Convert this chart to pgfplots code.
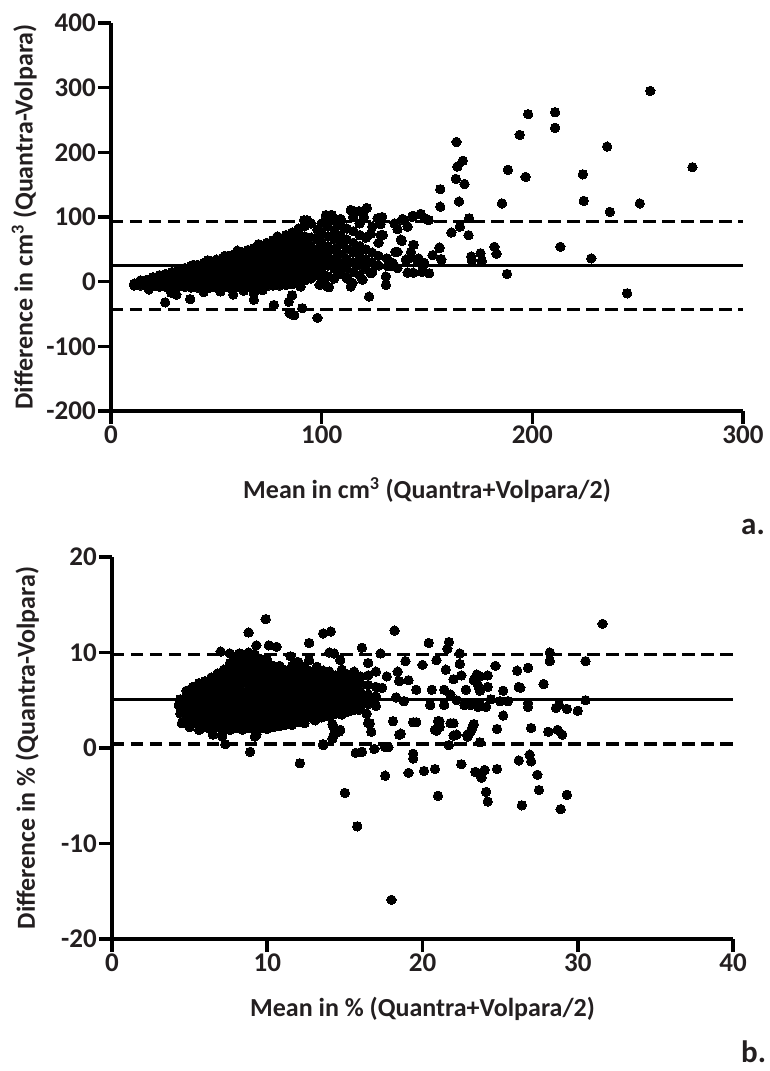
\documentclass[border=0pt]{standalone}
\usepackage{fontspec}
\setmainfont{Carlito}
\usepackage{pgfplots}
\pgfplotsset{compat=1.18}
\definecolor{txt}{HTML}{231F20}
\newcommand{\lblfont}{\fontsize{26}{30}\selectfont\bfseries}

\pgfplotsset{
  ba/.style={
    scale only axis,
    axis lines=left,
    axis line style={-, line width=3.6pt, black},
    tick style={line width=3.6pt, black},
    major tick length=13pt,
    tick align=outside,
    /pgf/number format/assume math mode=true,
    tick label style={font=\fontsize{27}{27}\selectfont\bfseries, text=txt, inner sep=2pt},
    every axis y label/.style={at={(axis description cs:-0.124,0.5)}, rotate=90, anchor=base, font=\lblfont, text=txt},
    clip=false,
  },
  dot/.style={only marks, mark=*, mark size=4.7pt, mark options={draw=black, fill=black, line width=0pt}},
  mean/.style={black, line width=3.2pt, no marks},
  loa/.style={black, line width=3.2pt, no marks, dash pattern=on 12.5pt off 6.5pt},
}

\begin{document}
\begin{tikzpicture}
\useasboundingbox (-112pt,-132pt) rectangle (658pt,939pt);

% ---- a. volume ----
\begin{axis}[ba,
  at={(-1pt,528pt)}, anchor=south west,
  width=632pt, height=388pt,
  xmin=0, xmax=300, ymin=-200, ymax=400,
  xtick={0,100,200,300}, ytick={-200,-100,0,100,200,300,400},
  every axis x label/.style={at={(axis description cs:0.5,0)}, anchor=base, yshift=-88pt, font=\lblfont, text=txt},
  xlabel={Mean in cm\textsuperscript{3} (Quantra+Volpara/2)},
  ylabel={Difference in cm\textsuperscript{3} (Quantra-Volpara)},
]
\addplot[dot] coordinates {
(11,-6)(11,-3)(14,-6)(14,-2)(14,2)(17,-7)(17,-2)(17,3)
(20,-7)(20,-2)(20,3)(20,7)(23,-8)(23,-3)(23,2)(23,7)(23,10)
(26,-8)(26,-3)(26,2)(26,7)(26,12)(29,-8)(29,-2)(29,4)(29,10)(29,15)
(32,-8)(32,-2)(32,4)(32,10)(32,16)(32,18)(35,-8)(35,-2)(35,5)(35,12)(35,18)(35,21)
(38,-9)(38,-2)(38,5)(38,12)(38,18)(38,24)(41,-9)(41,-2)(41,5)(41,12)(41,19)(41,26)
(44,-9)(44,-2)(44,6)(44,14)(44,22)(44,29)(47,-9)(47,-1)(47,7)(47,15)(47,23)(47,31)
(50,-9)(50,-1)(50,7)(50,15)(50,23)(50,31)(50,34)(53,-9)(53,-1)(53,7)(53,15)(53,23)(53,31)(53,37)
(56,-9)(56,0)(56,9)(56,18)(56,27)(56,35)(56,40)(59,-9)(59,0)(59,9)(59,18)(59,27)(59,36)(59,43)
(62,-8)(62,1)(62,10)(62,19)(62,28)(62,37)(62,46)(65,-8)(65,2)(65,12)(65,22)(65,32)(65,42)(65,49)
(68,-8)(68,2)(68,12)(68,22)(68,32)(68,42)(68,52)(71,-7)(71,3)(71,13)(71,23)(71,33)(71,43)(71,53)(71,56)
(74,-7)(74,3)(74,13)(74,23)(74,33)(74,43)(74,53)(74,60)(77,-6)(77,4)(77,14)(77,24)(77,34)(77,44)(77,54)(77,64)
(80,-6)(80,4)(80,14)(80,24)(80,34)(80,44)(80,54)(80,66)(83,-5)(83,5)(83,15)(83,25)(83,35)(83,45)(83,55)(83,66)(83,72)
(86,-4)(86,6)(86,16)(86,26)(86,36)(86,46)(86,56)(86,68)(86,76)(89,-3)(89,8)(89,18)(89,28)(89,38)(89,50)(89,62)(89,74)(89,82)
(92,2)(92,12)(92,22)(92,34)(92,46)(92,58)(92,70)(92,86)(95,5)(95,15)(95,28)(95,40)(95,55)(95,68)(95,90)
(98,10)(98,22)(98,38)(98,50)(98,65)(98,80)
(100,0)(100,15)(100,30)(100,45)(100,60)(100,75)(100,90)(103,8)(103,25)(103,40)(103,55)(103,70)(103,85)
(106,5)(106,20)(106,35)(106,50)(106,65)(106,80)(106,95)(109,12)(109,28)(109,42)(109,58)(109,72)(109,88)
(112,5)(112,20)(112,35)(112,50)(112,65)(112,82)(115,15)(115,30)(115,45)(115,60)(115,78)(115,100)
(118,10)(118,25)(118,40)(118,55)(118,72)(118,90)(121,20)(121,35)(121,50)(121,68)(124,15)(124,30)(124,45)(124,85)
(127,25)(127,40)(127,60)
(25.7,-32)(37.6,-27)(28.6,-17)(31,-20)(58,-20)(67.8,-18)(67.8,-28)(77.3,-36)(84.4,-31)(86,-21)
(84.8,-49)(87,-52)(90.8,-41)(98,-56)(103.5,-8.5)(113.8,-7.5)(122.5,-23)(130.5,-5)(99,-5)(90,-7.5)
(18,-12)(44,-16)(52,-15)(63,-14)(72,-13)(33,14)(46,33)(60,48)(70,58)(79,70)(54,40)(39,26)
(113.8,111)(117.8,109)(121.4,114)(102,103)(104.8,103)(93,95)(109,97)(120,100)(126.5,98)(128,89)
(138.4,97)(143,100)(147,105)(149.6,97)(136,81)(123.3,74)(128,72)(137.6,65)(143.7,57)(136,46)
(141.6,36)(131,36)(152.7,41)(156,52)(156.7,35)(131.3,24)(145.6,31)(148,23)(151,13)(140.8,14)
(130.5,8)(114.6,-2)(119.4,3)(123.3,13)(102.7,-7.5)
(256,295)(198,259)(210.8,262)(210.8,238)(194,227)(164,216)(235.5,209)(167,187)(164.4,178)(276,177)
(188.4,173)(196.8,162)(224,166)(163.7,159)(167.8,151)(156.3,143)(165.2,124)(185.6,121)(224.4,125)
(251,121)(156.3,116)(236.8,108)(170,98)(165.6,85)(161.6,76)(169.7,72)(213.3,54)(228,36)(188,12)
(245,-18)(182,54)(183,43)(175.4,44)(176,32)(171,39)(171.3,33)(155.9,53)(156.8,34)
(143.5,102)(147,104)(138.7,95)(150.8,95)(140.8,85)(129,72)(138,63)(143.5,57)(135,46)(142.4,46)
(140,34)(146,36)(148.7,29)(133.7,29)(133,24)(136,21)(143.5,14)(147.5,15)(128.7,100)
(114,110)(104.3,103)(91.6,95)(134.6,90)
};
\addplot[mean] coordinates {(0,24.5) (300,24.5)};
\addplot[loa] coordinates {(0,92.5) (300,92.5)};
\addplot[loa] coordinates {(0,-43.5) (300,-43.5)};
\end{axis}

% ---- b. percentage ----
\begin{axis}[ba,
  at={(0pt,0pt)}, anchor=south west,
  width=621pt, height=382pt,
  xmin=0, xmax=40, ymin=-20, ymax=20,
  xtick={0,10,20,30,40}, ytick={-20,-10,0,10,20},
  every axis x label/.style={at={(axis description cs:0.5,0)}, anchor=base, yshift=-77pt, font=\lblfont, text=txt},
  xlabel={Mean in \% (Quantra+Volpara/2)},
  ylabel={Difference in \% (Quantra-Volpara)},
]
\addplot[dot] coordinates {
(4.4,3.6)(4.4,4.4)(4.4,5.1)(4.8,3.0)(4.8,3.8)(4.8,4.6)(4.8,5.4)(4.8,6.0)
(5.2,2.6)(5.2,3.4)(5.2,4.2)(5.2,5.0)(5.2,5.8)(5.2,6.4)(5.6,2.3)(5.6,3.1)(5.6,3.9)(5.6,4.7)(5.6,5.5)(5.6,6.3)(5.6,6.8)
(6.0,2.2)(6.0,3.0)(6.0,3.8)(6.0,4.6)(6.0,5.4)(6.0,6.2)(6.0,7.0)(6.4,2.0)(6.4,2.8)(6.4,3.6)(6.4,4.4)(6.4,5.2)(6.4,6.0)(6.4,6.8)(6.4,7.4)
(6.8,2.2)(6.8,3.0)(6.8,3.8)(6.8,4.6)(6.8,5.4)(6.8,6.2)(6.8,7.0)(6.8,7.8)
(7.2,2.0)(7.2,2.8)(7.2,3.6)(7.2,4.4)(7.2,5.2)(7.2,6.0)(7.2,6.8)(7.2,7.6)(7.2,8.2)
(7.6,1.9)(7.6,2.7)(7.6,3.5)(7.6,4.3)(7.6,5.1)(7.6,5.9)(7.6,6.7)(7.6,7.5)(7.6,8.3)(7.6,8.9)
(8.0,2.1)(8.0,2.9)(8.0,3.7)(8.0,4.5)(8.0,5.3)(8.0,6.1)(8.0,6.9)(8.0,7.7)(8.0,8.5)(8.0,9.3)
(8.4,1.9)(8.4,2.7)(8.4,3.5)(8.4,4.3)(8.4,5.1)(8.4,5.9)(8.4,6.7)(8.4,7.5)(8.4,8.3)(8.4,9.1)(8.4,9.8)
(8.8,2.1)(8.8,2.9)(8.8,3.7)(8.8,4.5)(8.8,5.3)(8.8,6.1)(8.8,6.9)(8.8,7.7)(8.8,8.5)(8.8,9.3)(8.8,10.0)
(9.2,1.9)(9.2,2.7)(9.2,3.5)(9.2,4.3)(9.2,5.1)(9.2,5.9)(9.2,6.7)(9.2,7.5)(9.2,8.3)(9.2,9.1)(9.2,9.8)
(9.6,2.1)(9.6,2.9)(9.6,3.7)(9.6,4.5)(9.6,5.3)(9.6,6.1)(9.6,6.9)(9.6,7.7)(9.6,8.5)(9.6,9.3)
(10.0,2.0)(10.0,2.8)(10.0,3.6)(10.0,4.4)(10.0,5.2)(10.0,6.0)(10.0,6.8)(10.0,7.6)(10.0,8.4)(10.0,9.2)
(10.4,2.2)(10.4,3.0)(10.4,3.8)(10.4,4.6)(10.4,5.4)(10.4,6.2)(10.4,7.0)(10.4,7.8)(10.4,8.6)
(10.8,2.3)(10.8,3.1)(10.8,3.9)(10.8,4.7)(10.8,5.5)(10.8,6.3)(10.8,7.1)(10.8,7.9)(10.8,8.6)
(11.2,2.5)(11.2,3.3)(11.2,4.1)(11.2,4.9)(11.2,5.7)(11.2,6.5)(11.2,7.3)(11.2,8.1)
(11.6,2.4)(11.6,3.2)(11.6,4.0)(11.6,4.8)(11.6,5.6)(11.6,6.4)(11.6,7.2)(11.6,8.0)(11.6,8.6)
(12.0,2.7)(12.0,3.5)(12.0,4.3)(12.0,5.1)(12.0,5.9)(12.0,6.7)(12.0,7.5)(12.0,8.3)
(12.4,3.0)(12.4,3.8)(12.4,4.6)(12.4,5.4)(12.4,6.2)(12.4,7.0)(12.4,7.8)(12.4,8.5)
(12.8,3.2)(12.8,4.0)(12.8,4.8)(12.8,5.6)(12.8,6.4)(12.8,7.2)(12.8,8.0)
(13.2,3.1)(13.2,3.9)(13.2,4.7)(13.2,5.5)(13.2,6.3)(13.2,7.1)(13.2,7.9)(13.2,8.5)
(13.6,3.4)(13.6,4.2)(13.6,5.0)(13.6,5.8)(13.6,6.6)(13.6,7.4)(13.6,8.1)
(14.0,3.3)(14.0,4.1)(14.0,4.9)(14.0,5.7)(14.0,6.5)(14.0,7.3)(14.0,8.0)
(14.4,3.6)(14.4,4.4)(14.4,5.2)(14.4,6.0)(14.4,6.8)(14.4,7.6)
(14.8,3.5)(14.8,4.3)(14.8,5.1)(14.8,5.9)(14.8,6.7)(14.8,7.5)(14.8,8.2)
(15.2,3.8)(15.2,4.6)(15.2,5.4)(15.2,6.2)(15.2,7.0)(15.2,7.7)
(15.6,4.0)(15.6,4.8)(15.6,5.6)(15.6,6.4)(15.6,7.2)(15.6,8.0)
(16.0,4.3)(16.0,5.1)(16.0,5.9)(16.0,6.7)(16.0,7.5)(16.5,4.6)(16.5,5.6)(16.5,6.6)(16.5,7.6)
(17.0,4.4)(17.0,5.4)(17.0,6.4)(17.0,8.0)
(9.9,13.5)(8.8,12.1)(9.3,10.75)(10.1,10.75)(10.6,10.6)(8.9,-0.4)(7.3,0.4)(7.1,1.5)(9.3,1.4)(5.0,2.2)(4.5,2.6)(5.7,2.0)
(14.1,12.2)(18.2,12.3)(12.7,11.0)(14.0,10.0)(16.1,10.5)(17.3,9.9)(20.4,11.0)(21.7,11.1)(21.6,10.4)(22.4,9.9)
(12.0,9.0)(16.5,8.9)(18.9,9.1)(20.0,8.7)(20.9,9.2)(21.5,8.2)(22.4,8.8)(23.3,7.1)(22.0,7.2)(22.5,7.6)(23.5,7.7)
(21.4,6.1)(19.6,6.1)(19.1,7.1)(18.4,8.0)(18.5,7.0)(17.7,7.5)(17.4,6.3)(16.9,5.0)(18.3,5.3)(18.8,4.9)(20.6,6.1)
(20.5,4.5)(21.4,4.5)(21.8,5.6)(22.7,4.5)(23.1,4.5)(23.6,4.3)(22.2,5.0)(22.8,6.1)(23.7,6.0)
(15.3,4.3)(15.9,4.0)(14.4,3.7)(16.4,3.6)(11.9,2.9)(12.4,2.6)(13.1,2.9)(13.5,3.2)(14.2,2.5)
(18.1,2.8)(19.6,2.7)(21.1,2.8)(22.0,2.6)(14.3,2.1)(14.6,1.7)(16.6,2.6)(16.7,1.7)(14.2,1.0)(18.5,1.4)
(20.9,1.8)(21.1,2.2)(22.0,1.3)(23.0,1.5)(22.9,1.2)(13.6,0.4)(15.7,-0.5)(16.1,-0.4)(16.9,-0.1)(17.8,0.1)
(19.4,-0.6)(19.4,-1.1)(12.1,-1.6)(17.6,-2.9)(19.1,-2.6)(20.1,-2.4)(20.8,-2.2)(22.5,-1.7)(23.4,-2.5)(23.8,-3.1)
(31.6,13.0)(28.2,10.0)(28.2,9.1)(30.5,9.1)(24.7,8.6)(26.1,8.1)(26.8,8.4)(23.4,7.2)(23.7,7.5)(24.2,7.6)
(23.6,6.5)(24.2,6.4)(25.2,6.0)(26.2,6.4)(27.8,6.7)(24.4,5.1)(25.0,4.9)(25.5,4.9)(23.5,4.7)(23.7,4.6)(24.1,4.3)
(25.2,3.4)(26.8,4.7)(28.6,4.2)(28.8,4.5)(29.3,4.1)(30.0,3.9)(30.5,5.0)(23.3,2.5)(23.2,2.1)(24.8,2.0)
(27.0,2.1)(28.1,1.7)(28.7,1.9)(29.0,1.4)(23.7,0.6)(26.9,-0.7)(27.0,-1.4)(26.2,-1.3)(24.8,-2.2)(24.0,-2.3)
(27.4,-2.8)(27.5,-4.4)(24.1,-4.6)(24.2,-5.6)(26.4,-6.0)(29.3,-4.9)(28.9,-6.4)(26.3,6.3)(26.8,4.3)
(21.0,-5.0)(17.6,0.1)(21.7,0.3)(20.8,1.9)(21.0,2.8)(21.8,2.6)(18.6,1.5)(19.4,2.7)(22.2,1.4)(22.9,1.4)(23.1,1.7)
(15.0,-4.7)(15.8,-8.2)(13.6,0.3)(14.3,1.4)(14.7,1.9)(16.5,2.6)(15.1,4.3)(15.3,5.4)
(6.5,1.4)(7.1,1.2)(9.2,1.2)(5.6,1.9)(6.3,2.0)(7.2,2.4)(11.1,2.4)(4.3,4.5)(5.0,6.1)(5.6,6.4)
(7.0,10.1)(7.6,9.9)(8.2,9.9)(10.0,8.3)(11.5,9.6)(11.9,9.0)(12.7,9.2)(14.3,9.9)(14.7,9.2)(13.6,12.0)
(18.0,-15.9)
};
\addplot[mean] coordinates {(0,5.12) (40,5.12)};
\addplot[loa] coordinates {(0,9.82) (40,9.82)};
\addplot[loa] coordinates {(0,0.42) (40,0.42)};
\end{axis}

\node[anchor=base west, inner sep=0pt, text=txt, font=\fontsize{31}{31}\selectfont\bfseries] at (629pt,404pt) {a.};
\node[anchor=base west, inner sep=0pt, text=txt, font=\fontsize{31}{31}\selectfont\bfseries] at (629pt,-123pt) {b.};
\end{tikzpicture}
\end{document}
